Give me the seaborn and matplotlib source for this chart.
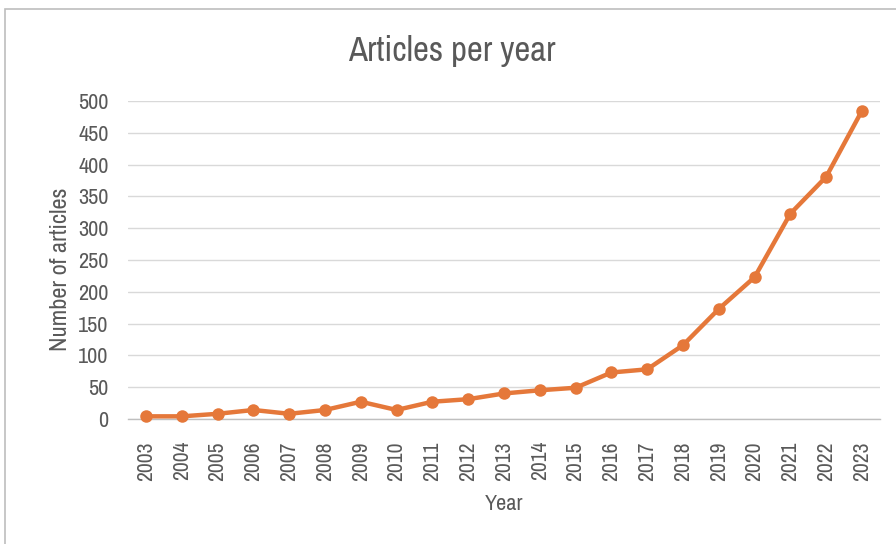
import matplotlib
matplotlib.use("Agg")
import matplotlib.pyplot as plt
from matplotlib import font_manager as fm
from matplotlib.patches import Rectangle
import seaborn as sns
import pandas as pd

years = list(range(2003, 2024))
articles = [4, 4, 8, 14, 8, 14, 27, 14, 27, 31, 40, 45, 49, 73, 78, 116, 173, 223, 323, 381, 485]
y_ticks = [0, 50, 100, 150, 200, 250, 300, 350, 400, 450, 500]

df = pd.DataFrame({"Year": years, "Articles": articles})

sns.set_theme(style="white")

# prefer a narrow sans face when one is installed
narrow = None
for f in fm.fontManager.ttflist:
    low = f.fname.lower()
    if "narrow" in low and "bold" not in low and "italic" not in low:
        narrow = fm.FontProperties(fname=f.fname)
        break
if narrow is None:
    for f in fm.fontManager.ttflist:
        low = f.fname.lower()
        if "condensed" in low and "bold" not in low and "oblique" not in low and "italic" not in low and "mono" not in low and "serif" not in low.replace("sans", ""):
            narrow = fm.FontProperties(fname=f.fname)
            break

plt.rcParams["font.family"] = ["Liberation Sans", "DejaVu Sans"]

text_color = "#595959"
line_color = "#E5783A"

if narrow is not None:
    sizes = dict(tick=16, xtick=15.5, xlabel=16, ylabel=17.5, title=25)
else:
    sizes = dict(tick=12.5, xtick=12.5, xlabel=13, ylabel=14, title=19)


def fp(size):
    if narrow is not None:
        p = narrow.copy()
        p.set_size(size)
        return p
    return fm.FontProperties(family=["Liberation Sans", "DejaVu Sans"], size=size)


fig = plt.figure(figsize=(8.96, 5.44), dpi=100)
ax = fig.add_axes([0.143, 0.230, 0.839, 0.584])

sns.lineplot(data=df, x="Year", y="Articles", ax=ax, color=line_color,
             linewidth=3.2, marker="o", markersize=9, markeredgewidth=0,
             clip_on=False, zorder=3)

ax.set_xlim(2002.5, 2023.5)
ax.set_ylim(0, 500)
ax.set_yticks(y_ticks)
ax.set_yticklabels([str(v) for v in y_ticks], fontproperties=fp(sizes["tick"]))
ax.set_xticks(years)
ax.set_xticklabels([str(y) for y in years], rotation=90, fontproperties=fp(sizes["xtick"]))
ax.tick_params(axis="both", colors=text_color, length=0)
ax.tick_params(axis="y", pad=14)
ax.tick_params(axis="x", pad=16)

ax.grid(axis="y", color="#D9D9D9", linewidth=1.0)
ax.grid(axis="x", visible=False)
for side in ["top", "right", "left"]:
    ax.spines[side].set_visible(False)
ax.spines["bottom"].set_color("#BFBFBF")
ax.spines["bottom"].set_linewidth(1.0)

ax.set_xlabel("Year", color=text_color, fontproperties=fp(sizes["xlabel"]), labelpad=10)
ax.set_ylabel("Number of articles", color=text_color, fontproperties=fp(sizes["ylabel"]), labelpad=5)
ax.yaxis.label.set_y(0.47)
fig.suptitle("Articles per year", color=text_color, fontproperties=fp(sizes["title"]), x=0.504, y=0.935)

# chart frame
fig.patches.append(Rectangle((5 / 896, -0.1), 1.2, 1 - 9 / 544 + 0.1,
                             transform=fig.transFigure, fill=False,
                             edgecolor="#BDBDBD", linewidth=1.2))

fig.savefig("out.png", dpi=100, facecolor="white")
